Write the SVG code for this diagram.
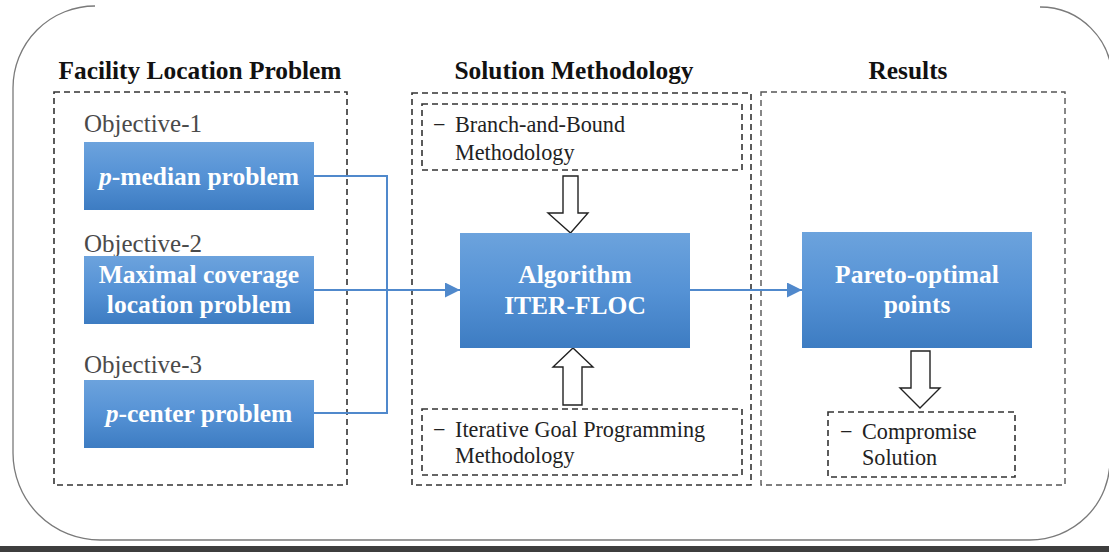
<svg xmlns="http://www.w3.org/2000/svg" width="1109" height="552" viewBox="0 0 1109 552">
  <defs>
    <linearGradient id="blueFill" x1="0" y1="0" x2="0" y2="1">
      <stop offset="0" stop-color="#6ca3dd"/>
      <stop offset="0.5" stop-color="#5592d5"/>
      <stop offset="1" stop-color="#3d7cc2"/>
    </linearGradient>
    <marker id="arrowHead" markerWidth="16" markerHeight="16" refX="15" refY="7.5" orient="auto" markerUnits="userSpaceOnUse">
      <path d="M0,0 L15,7.5 L0,15 Z" fill="#5089cc"/>
    </marker>
    <style>
      .frame { fill: none; stroke: #7a7a7a; stroke-width: 1.3; }
      .header { font-family: "Liberation Serif", "Times New Roman", serif; font-weight: bold; font-size: 25.4px; fill: #111; text-anchor: middle; }
      .group { fill: none; stroke: #333; stroke-width: 1.6; stroke-dasharray: 6 4; }
      .group-light { fill: none; stroke: #555; stroke-width: 1.4; stroke-dasharray: 6 4; }
      .note { fill: #fff; stroke: #333; stroke-width: 1.6; stroke-dasharray: 6 4; }
      .objective { font-family: "Liberation Serif", "Times New Roman", serif; font-size: 25px; fill: #4a4a4a; }
      .box { fill: url(#blueFill); }
      .box-text { font-family: "Liberation Serif", "Times New Roman", serif; font-weight: bold; font-size: 25.5px; fill: #fff; text-anchor: middle; }
      .note-text { font-family: "Liberation Serif", "Times New Roman", serif; font-size: 22.2px; fill: #222; }
      .link { fill: none; stroke: #5089cc; stroke-width: 2; }
      .block-arrow { fill: #fff; stroke: #222; stroke-width: 1.4; stroke-linejoin: miter; }
    </style>
  </defs>

  <rect x="0" y="0" width="1109" height="552" fill="#fff"/>

  <!-- rounded outer frame -->
  <g id="frame">
    <path class="frame" d="M 95 6 A 82 82 0 0 0 13 88 L 13 453 A 87 87 0 0 0 100 540 L 1030 540 A 80 80 0 0 0 1110 460"/>
    <path class="frame" d="M 1040 7 A 72 72 0 0 1 1112 79"/>
    <rect x="0" y="546" width="1109" height="6" fill="#3e3e3e"/>
  </g>

  <!-- column headers -->
  <g id="headers">
    <text class="header" x="200" y="79">Facility Location Problem</text>
    <text class="header" x="574" y="79">Solution Methodology</text>
    <text class="header" x="908" y="79">Results</text>
  </g>

  <!-- dashed column groups -->
  <g id="group-problem"><rect class="group" x="54" y="92" width="293" height="393"/></g>
  <g id="group-method"><rect class="group" x="412" y="93" width="339" height="392"/></g>
  <g id="group-results"><rect class="group-light" x="761" y="92" width="304" height="393"/></g>

  <!-- connectors -->
  <g id="connectors">
    <polyline class="link" points="314,176 387,176 387,413 314,413"/>
    <line class="link" x1="314" y1="290" x2="460" y2="290" marker-end="url(#arrowHead)"/>
    <line class="link" x1="690" y1="290" x2="802" y2="290" marker-end="url(#arrowHead)"/>
    <path class="block-arrow" d="M563,176 L578,176 L578,213 L588,213 L570.5,233 L548,213 L563,213 Z"/>
    <path class="block-arrow" d="M563,405 L582,405 L582,367 L593,367 L573,348 L553,367 L563,367 Z"/>
    <path class="block-arrow" d="M911,351 L930,351 L930,388 L940,388 L920,408 L900,388 L911,388 Z"/>
  </g>

  <!-- objectives -->
  <g id="node-p-median">
    <text class="objective" x="84" y="132">Objective-1</text>
    <rect class="box" x="84" y="142" width="230" height="68"/>
    <text class="box-text" x="199" y="185"><tspan font-style="italic">p</tspan>-median problem</text>
  </g>
  <g id="node-max-coverage">
    <text class="objective" x="84" y="252">Objective-2</text>
    <rect class="box" x="84" y="256" width="230" height="68"/>
    <text class="box-text" x="199" y="283">Maximal coverage</text>
    <text class="box-text" x="199" y="313">location problem</text>
  </g>
  <g id="node-p-center">
    <text class="objective" x="84" y="373">Objective-3</text>
    <rect class="box" x="84" y="380" width="230" height="68"/>
    <text class="box-text" x="199" y="422"><tspan font-style="italic">p</tspan>-center problem</text>
  </g>

  <!-- methodology -->
  <g id="node-branch-bound">
    <rect class="note" x="422" y="104" width="320" height="66"/>
    <text class="note-text" x="433" y="132">−</text>
    <text class="note-text" x="455" y="132">Branch-and-Bound</text>
    <text class="note-text" x="455" y="160">Methodology</text>
  </g>
  <g id="node-algorithm">
    <rect class="box" x="460" y="233" width="230" height="115"/>
    <text class="box-text" x="575" y="283">Algorithm</text>
    <text class="box-text" x="575" y="314">ITER-FLOC</text>
  </g>
  <g id="node-goal-programming">
    <rect class="note" x="422" y="409" width="320" height="66"/>
    <text class="note-text" x="433" y="437">−</text>
    <text class="note-text" x="455" y="437">Iterative Goal Programming</text>
    <text class="note-text" x="455" y="463">Methodology</text>
  </g>

  <!-- results -->
  <g id="node-pareto">
    <rect class="box" x="802" y="232" width="230" height="116"/>
    <text class="box-text" x="917" y="283">Pareto-optimal</text>
    <text class="box-text" x="917" y="313">points</text>
  </g>
  <g id="node-compromise">
    <rect class="note" x="828" y="412" width="187" height="65"/>
    <text class="note-text" x="840" y="439">−</text>
    <text class="note-text" x="862" y="439">Compromise</text>
    <text class="note-text" x="862" y="465">Solution</text>
  </g>
</svg>
